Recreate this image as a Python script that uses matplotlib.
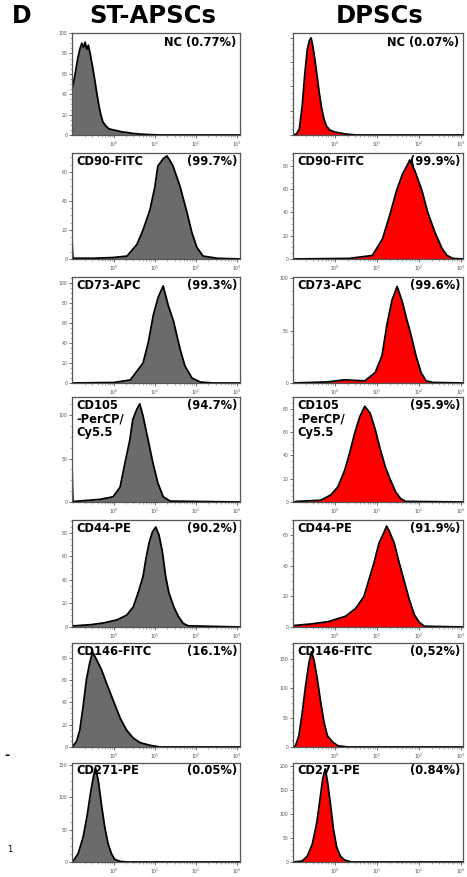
import numpy as np
import matplotlib
matplotlib.use('Agg')
import matplotlib.pyplot as plt
from matplotlib.ticker import FixedLocator, AutoMinorLocator, LogLocator, NullFormatter

plt.rcParams['font.family'] = ['DejaVu Sans']

# marker names / percentages
markers = ['NC', 'CD90-FITC', 'CD73-APC', 'CD105\n-PerCP/\nCy5.5', 'CD44-PE', 'CD146-FITC', 'CD271-PE']
st_pct = ['(0.77%)', '(99.7%)', '(99.3%)', '(94.7%)', '(90.2%)', '(16.1%)', '(0.05%)']
dp_pct = ['(0.07%)', '(99.9%)', '(99.6%)', '(95.9%)', '(91.9%)', '(0,52%)', '(0.84%)']

# y axis tops and tick steps per panel
st_ytop = [100, 73, 106, 121, 91, 93, 153]
st_ystep = [20, 20, 20, 50, 20, 20, 50]
dp_ytop = [105, 91, 101, 90, 70, 177, 206]
dp_ystep = [25, 20, 50, 20, 20, 50, 50]

# histogram outlines: log10 intensity vs count
st_nc_log = [-1.02, -0.98, -0.93, -0.88, -0.83, -0.78, -0.74, -0.70, -0.66, -0.62, -0.57, -0.52, -0.47, -0.42,
             -0.37, -0.32, -0.27, -0.20, -0.12, -0.02, 0.10, 0.20, 0.32, 0.46, 0.60, 0.80, 1.10, 3.07]
st_nc_cnt = [45, 52, 63, 75, 84, 90, 86, 91, 84, 88, 78, 67, 55, 42, 30, 20, 13, 9, 6, 5, 4, 3, 2.5, 1.5, 1, 0.5, 0, 0]
dp_nc_log = [-1.0, -0.92, -0.85, -0.78, -0.72, -0.66, -0.61, -0.57, -0.53, -0.48, -0.43, -0.38, -0.32, -0.26,
             -0.2, -0.12, 0.0, 0.25, 0.5, 3.05]
dp_nc_cnt = [0, 1, 6, 30, 62, 88, 97, 100, 92, 78, 62, 45, 28, 16, 9, 5, 3, 1, 0, 0]

st_cd90_log = [-1.02, -1.0, -0.5, -0.02, 0.32, 0.56, 0.71, 0.88, 1.0, 1.07, 1.2, 1.29, 1.36, 1.44, 1.61, 1.78,
               1.9, 2.02, 2.17, 2.51, 3.07]
st_cd90_cnt = [14, 0.5, 0.5, 1, 2, 10, 20, 34, 50, 64, 69, 71, 68, 64, 50, 32, 18, 8, 2, 0.5, 0]
dp_cd90_log = [-1.0, 0.34, 0.89, 1.13, 1.30, 1.47, 1.61, 1.73, 1.78, 1.90, 2.07, 2.21, 2.38, 2.55, 2.67, 2.81, 3.05]
dp_cd90_cnt = [0, 0.5, 3, 17, 37, 59, 73, 81, 85, 76, 59, 40, 23, 9, 3, 0.5, 0]

st_cd73_log = [-1.02, 0.0, 0.4, 0.71, 0.84, 0.96, 1.08, 1.2, 1.32, 1.45, 1.61, 1.73, 1.9, 2.1, 2.4, 3.07]
st_cd73_cnt = [0, 0.5, 3, 20, 41, 68, 86, 97, 78, 62, 34, 17, 5, 1, 0, 0]
dp_cd73_log = [-1.0, -0.18, 0.23, 0.71, 0.96, 1.12, 1.24, 1.36, 1.48, 1.60, 1.72, 1.81, 1.93, 2.05, 2.17, 2.33, 3.05]
dp_cd73_cnt = [0, 1, 3, 2, 10, 26, 56, 79, 92, 78, 59, 46, 26, 10, 2, 0.5, 0]

st_cd105_log = [-1.02, -1.0, -0.34, -0.02, 0.15, 0.27, 0.39, 0.46, 0.56, 0.63, 0.71, 0.83, 0.95, 1.07, 1.2, 1.37, 3.07]
st_cd105_cnt = [42, 0.5, 3, 6, 17, 45, 72, 95, 107, 113, 99, 72, 45, 22, 6, 1, 0]
dp_cd105_log = [-1.0, -0.90, -0.34, -0.10, 0.07, 0.23, 0.35, 0.47, 0.59, 0.71, 0.84, 0.96, 1.08, 1.20, 1.32,
                1.44, 1.56, 1.68, 3.05]
dp_cd105_cnt = [0, 0.5, 1.5, 6, 13, 27, 42, 59, 73, 82, 76, 62, 45, 30, 19, 9, 3, 0.5, 0]

st_cd44_log = [-1.02, -0.95, -0.55, -0.24, 0.07, 0.31, 0.47, 0.59, 0.71, 0.78, 0.86, 0.94, 1.02, 1.10, 1.18,
               1.26, 1.34, 1.46, 1.57, 1.69, 1.81, 3.07]
st_cd44_cnt = [1, 1, 2, 3.5, 6, 10, 17, 29, 43, 58, 72, 81, 85, 78, 64, 43, 29, 17, 9, 3, 1, 0]
dp_cd44_log = [-1.0, -0.96, -0.56, -0.16, 0.25, 0.49, 0.69, 0.81, 0.93, 1.05, 1.17, 1.23, 1.29, 1.41, 1.53,
               1.65, 1.77, 1.89, 2.01, 2.13, 3.05]
dp_cd44_cnt = [0.5, 1, 2, 3.5, 7, 12, 20, 31, 42, 55, 62, 66, 63, 55, 42, 30, 18, 8, 3, 0.5, 0]

st_cd146_log = [-1.02, -0.99, -0.91, -0.83, -0.75, -0.67, -0.59, -0.52, -0.42, -0.30, -0.18, -0.02, 0.15, 0.31,
                0.47, 0.63, 0.88, 1.12, 3.07]
st_cd146_cnt = [0, 1, 5, 15, 36, 60, 75, 85, 78, 69, 57, 42, 26, 15, 8, 4, 1.5, 0, 0]
dp_cd146_log = [-1.0, -0.94, -0.86, -0.78, -0.70, -0.62, -0.56, -0.50, -0.42, -0.34, -0.26, -0.18, -0.05, 0.07,
                0.31, 3.05]
dp_cd146_cnt = [0, 2, 19, 58, 104, 143, 162, 148, 115, 76, 42, 19, 8, 2, 0, 0]

st_cd271_log = [-1.02, -0.99, -0.87, -0.75, -0.65, -0.57, -0.50, -0.45, -0.38, -0.30, -0.22, -0.14, -0.06, 0.02,
                0.15, 0.31, 3.07]
st_cd271_cnt = [0, 1.5, 13, 38, 72, 106, 131, 146, 126, 87, 53, 28, 13, 4, 1, 0, 0]
dp_cd271_log = [-1.0, -0.78, -0.66, -0.54, -0.43, -0.35, -0.29, -0.23, -0.18, -0.11, -0.04, 0.04, 0.13, 0.23,
                0.39, 3.05]
dp_cd271_cnt = [0, 2, 12, 37, 83, 135, 174, 194, 168, 122, 70, 31, 12, 4, 0, 0]

st_hist = [(st_nc_log, st_nc_cnt), (st_cd90_log, st_cd90_cnt), (st_cd73_log, st_cd73_cnt),
           (st_cd105_log, st_cd105_cnt), (st_cd44_log, st_cd44_cnt), (st_cd146_log, st_cd146_cnt),
           (st_cd271_log, st_cd271_cnt)]
dp_hist = [(dp_nc_log, dp_nc_cnt), (dp_cd90_log, dp_cd90_cnt), (dp_cd73_log, dp_cd73_cnt),
           (dp_cd105_log, dp_cd105_cnt), (dp_cd44_log, dp_cd44_cnt), (dp_cd146_log, dp_cd146_cnt),
           (dp_cd271_log, dp_cd271_cnt)]

W, H = 467, 877
fig = plt.figure(figsize=(W / 100, H / 100), dpi=100)

# panel rows in pixels (top, bottom)
rows = [(33, 135), (153, 259), (277, 383), (397, 502), (520, 627), (643, 747), (763, 862)]
cols = [(72, 240, -1.02, 3.07), (293, 463, -1.0, 3.05)]


def panel(px, row, hist, ytop, ystep, color, label, pct, ylabels=True):
    x0, x1, lo, hi = px
    t, b = row
    ax = fig.add_axes([x0 / W, 1 - b / H, (x1 - x0) / W, (b - t) / H])
    xs = 10 ** np.array(hist[0])
    ys = np.array(hist[1])
    ax.fill_between(xs, ys, color=color, lw=0)
    ax.plot(xs, ys, color='black', lw=1.3)
    ax.set_xscale('log')
    ax.set_xlim(10 ** lo, 10 ** hi)
    ax.set_ylim(0, ytop)
    ax.xaxis.set_major_locator(FixedLocator([1, 10, 100, 1000]))
    ax.set_xticklabels(['$10^0$', '$10^1$', '$10^2$', '$10^3$'])
    ax.xaxis.set_minor_locator(LogLocator(base=10, subs=np.arange(2, 10)))
    ax.xaxis.set_minor_formatter(NullFormatter())
    ax.set_yticks(np.arange(0, ytop + 0.1, ystep))
    ax.yaxis.set_minor_locator(AutoMinorLocator(4))
    if not ylabels:
        ax.set_yticklabels([])
    ax.tick_params(which='major', length=2.2, width=0.6, labelsize=3.3, labelcolor='#555', color='#555', pad=1)
    ax.tick_params(which='minor', length=1.2, width=0.4, color='#777')
    for s in ax.spines.values():
        s.set_color('#555')
        s.set_linewidth(0.9)
    if label == 'NC':
        ax.text(0.98, 0.97, 'NC ' + pct, transform=ax.transAxes, ha='right', va='top',
                fontsize=8.3, fontweight='bold')
    else:
        ax.text(0.025, 0.985, label, transform=ax.transAxes, ha='left', va='top',
                fontsize=8.3, fontweight='bold', linespacing=1.05)
        ax.text(0.985, 0.985, pct, transform=ax.transAxes, ha='right', va='top',
                fontsize=8.3, fontweight='bold')
    return ax


for i in range(7):
    panel(cols[0], rows[i], st_hist[i], st_ytop[i], st_ystep[i], '#6b6b6b',
          markers[i], st_pct[i])
    panel(cols[1], rows[i], dp_hist[i], dp_ytop[i], dp_ystep[i], '#ff0000',
          markers[i], dp_pct[i], ylabels=(i != 0))

fig.text(22 / W, 1 - 16 / H, 'D', fontsize=17, fontweight='bold', ha='center', va='center')
fig.text(153 / W, 1 - 16 / H, 'ST-APSCs', fontsize=17.5, fontweight='bold', ha='center', va='center')
fig.text(380 / W, 1 - 16 / H, 'DPSCs', fontsize=17.5, fontweight='bold', ha='center', va='center')
fig.text(4 / W, 1 - 755 / H, '-', fontsize=9, fontweight='bold', ha='left', va='center')
fig.text(10 / W, 1 - 850 / H, '1', fontsize=6, ha='center', va='center')

fig.savefig('out.png', dpi=100)
